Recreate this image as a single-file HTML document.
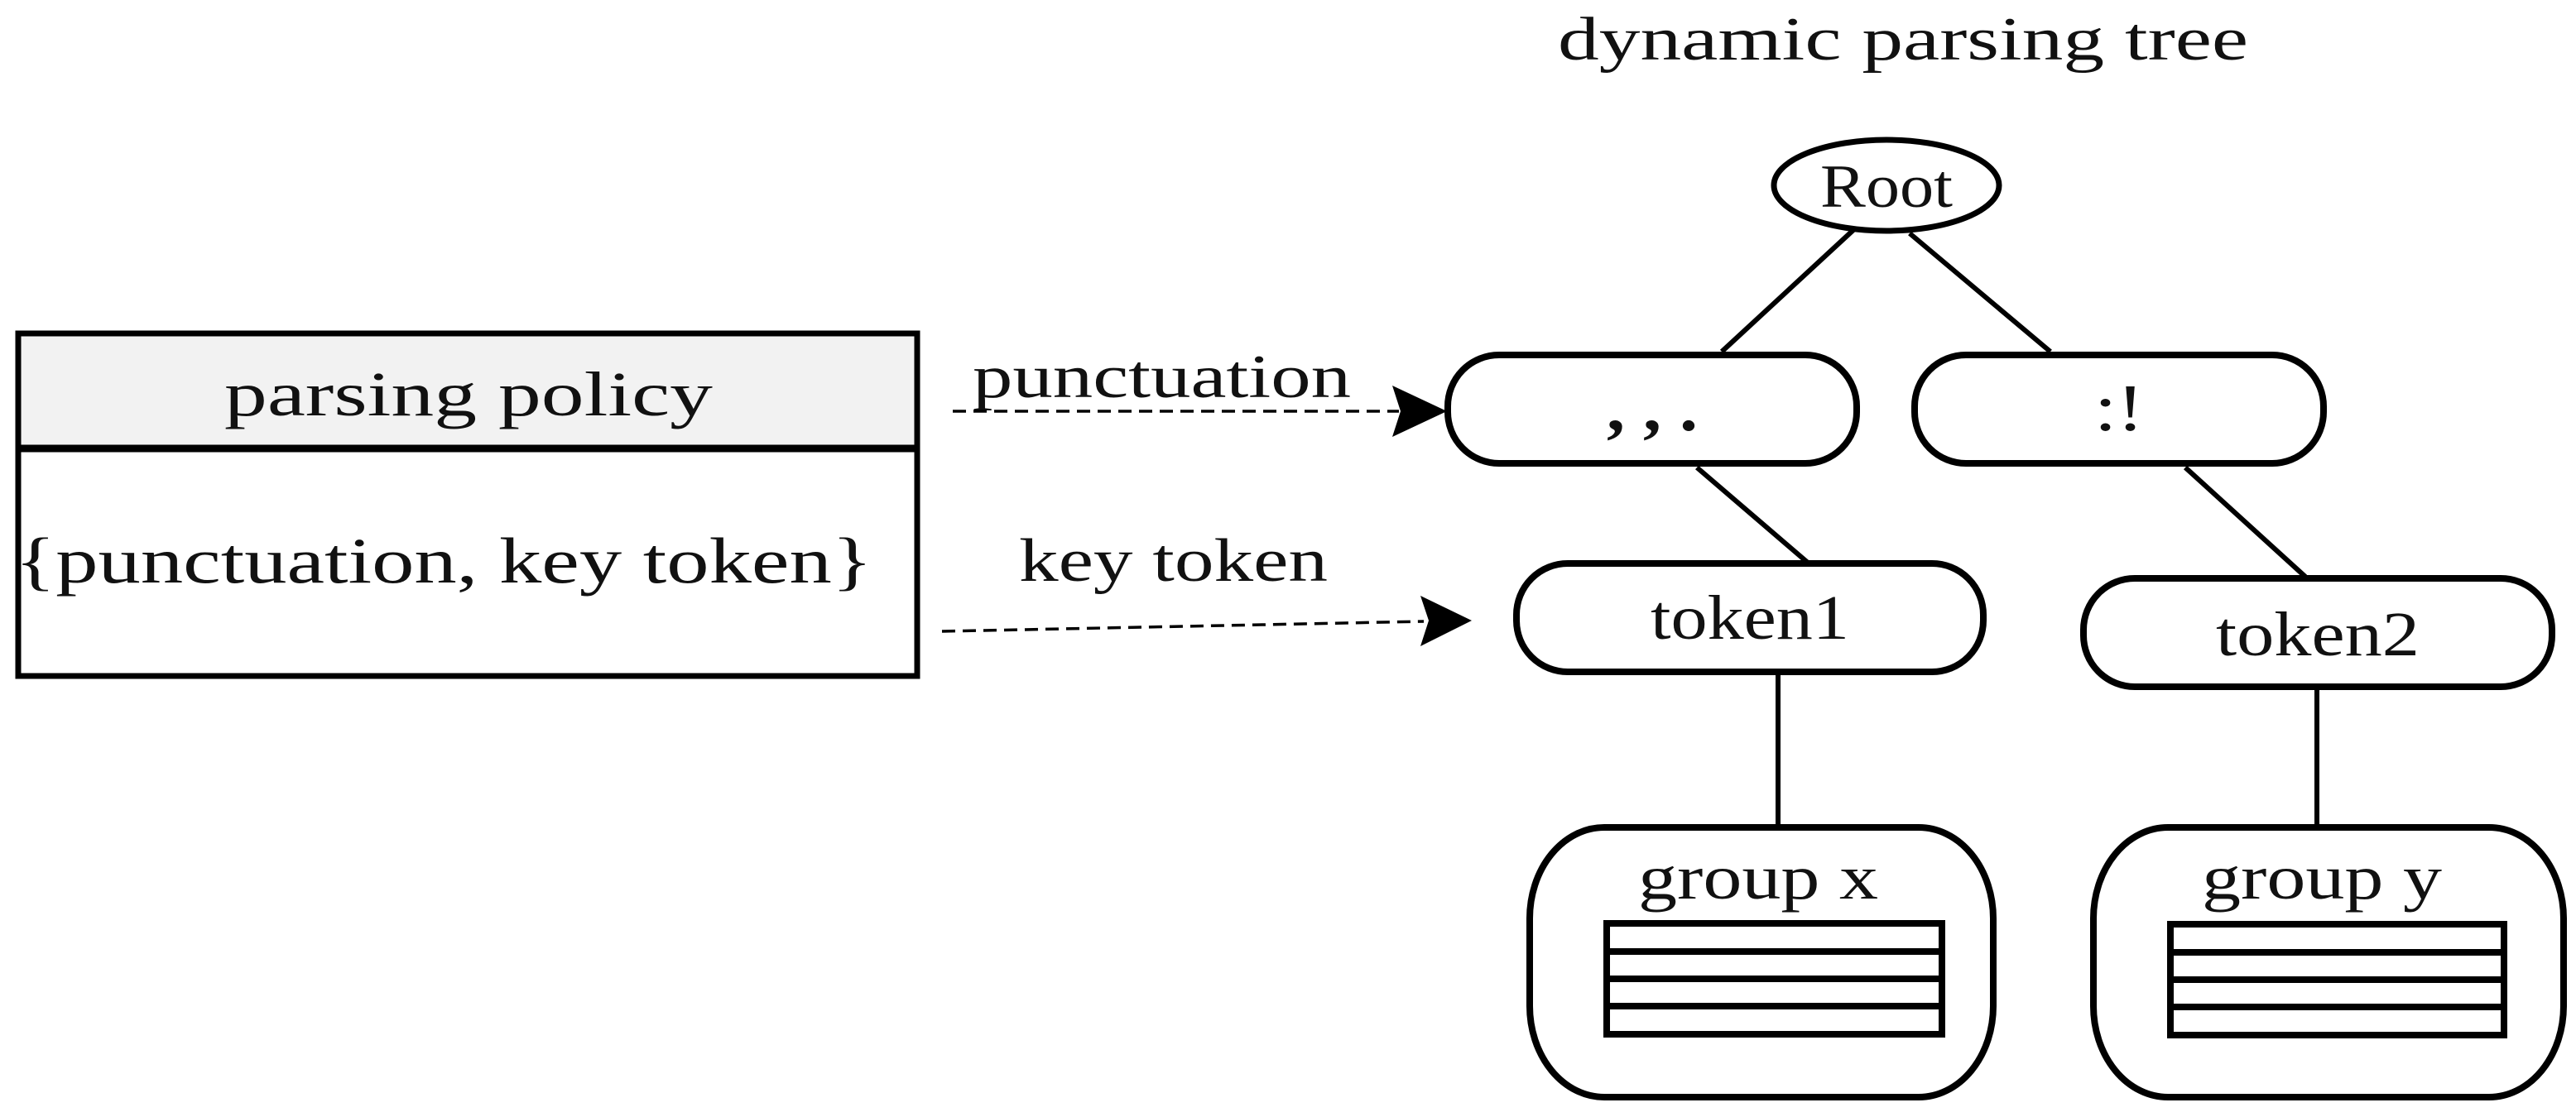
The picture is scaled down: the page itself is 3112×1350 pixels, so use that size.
<!DOCTYPE html>
<html><head><meta charset="utf-8"><style>
html,body{margin:0;padding:0;background:#fff;}
svg{display:block;}
text{font-family:"Liberation Serif","DejaVu Serif",serif;fill:#111;}
</style></head><body>
<svg width="3112" height="1350" viewBox="0 0 3112 1350" xmlns="http://www.w3.org/2000/svg">
<!-- left box -->
<rect x="22" y="403" width="1086" height="137" fill="#f2f2f2"/>
<rect x="22" y="403" width="1086" height="414" fill="none" stroke="#000" stroke-width="7"/>
<line x1="22" y1="542" x2="1108" y2="542" stroke="#000" stroke-width="9"/>
<text x="566" y="502" font-size="76" text-anchor="middle" textLength="590" lengthAdjust="spacingAndGlyphs">parsing policy</text>
<text x="536" y="704" font-size="78" text-anchor="middle" textLength="1036" lengthAdjust="spacingAndGlyphs">{punctuation, key token}</text>

<!-- arrows -->
<text x="1175" y="480" font-size="74" textLength="457" lengthAdjust="spacingAndGlyphs">punctuation</text>
<line x1="1151" y1="497" x2="1690" y2="497" stroke="#000" stroke-width="3.5" stroke-dasharray="16,9"/>
<polygon points="1682,466 1748,497 1682,528 1692,497" fill="#000"/>
<text x="1231" y="702" font-size="74" textLength="373" lengthAdjust="spacingAndGlyphs">key token</text>
<line x1="1138" y1="763" x2="1720" y2="751" stroke="#000" stroke-width="3.5" stroke-dasharray="16,9"/>
<polygon points="1716,720 1778,750 1716,781 1726,750" fill="#000"/>

<!-- title -->
<text x="1882" y="72" font-size="74" textLength="834" lengthAdjust="spacingAndGlyphs">dynamic parsing tree</text>

<!-- tree lines -->
<g stroke="#000" stroke-width="6">
<line x1="2239" y1="278" x2="2080" y2="425"/>
<line x1="2307" y1="282" x2="2477" y2="425"/>
<line x1="2050" y1="565" x2="2184" y2="680"/>
<line x1="2640" y1="565" x2="2785" y2="697"/>
<line x1="2148" y1="812" x2="2148" y2="1000"/>
<line x1="2799" y1="830" x2="2799" y2="1000"/>
</g>

<!-- Root -->
<ellipse cx="2279" cy="224" rx="136" ry="55" fill="#fff" stroke="#000" stroke-width="7"/>
<text x="2279" y="250" font-size="74" text-anchor="middle" textLength="160" lengthAdjust="spacingAndGlyphs">Root</text>

<!-- nodes -->
<g fill="#fff" stroke="#000" stroke-width="8">
<rect x="1749" y="429" width="494" height="131" rx="62" ry="62"/>
<rect x="2313" y="429" width="494" height="131" rx="62" ry="62"/>
<rect x="1832" y="681" width="564" height="131" rx="62" ry="62"/>
<rect x="2517" y="699" width="566" height="131" rx="62" ry="62"/>
<rect x="1848" y="1000" width="560" height="326" rx="90" ry="110"/>
<rect x="2529" y="1000" width="568" height="326" rx="90" ry="110"/>
</g>
<text x="1996" y="520" font-size="80" font-weight="bold" text-anchor="middle" textLength="110" lengthAdjust="spacingAndGlyphs">, , .</text>
<text x="2560" y="520" font-size="80" text-anchor="middle" textLength="60" lengthAdjust="spacingAndGlyphs">:!</text>
<text x="2114" y="772" font-size="76" text-anchor="middle" textLength="240" lengthAdjust="spacingAndGlyphs">token1</text>
<text x="2800" y="792" font-size="76" text-anchor="middle" textLength="246" lengthAdjust="spacingAndGlyphs">token2</text>
<text x="2124" y="1086" font-size="76" text-anchor="middle" textLength="290" lengthAdjust="spacingAndGlyphs">group x</text>
<text x="2805" y="1086" font-size="76" text-anchor="middle" textLength="290" lengthAdjust="spacingAndGlyphs">group y</text>

<!-- tables -->
<g fill="#fff" stroke="#000" stroke-width="8">
<rect x="1941" y="1116" width="405" height="134"/>
<rect x="2622" y="1117" width="403" height="134"/>
</g>
<g stroke="#000" stroke-width="8">
<line x1="1941" y1="1150" x2="2346" y2="1150"/>
<line x1="1941" y1="1183" x2="2346" y2="1183"/>
<line x1="1941" y1="1216" x2="2346" y2="1216"/>
<line x1="2622" y1="1151" x2="3025" y2="1151"/>
<line x1="2622" y1="1184" x2="3025" y2="1184"/>
<line x1="2622" y1="1217" x2="3025" y2="1217"/>
</g>
</svg>
</body></html>
